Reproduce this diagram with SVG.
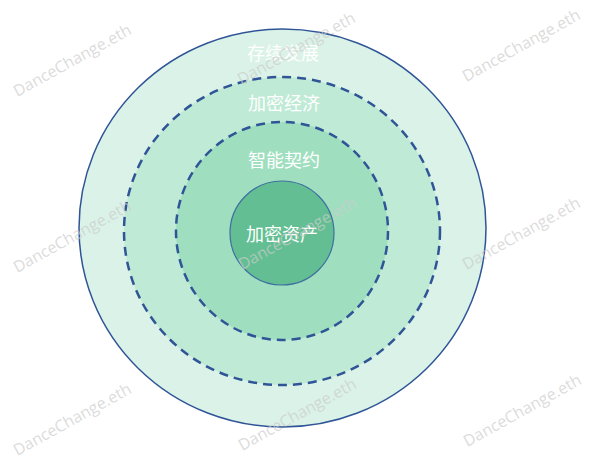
<svg xmlns="http://www.w3.org/2000/svg" width="600" height="470" viewBox="0 0 600 470">
<style>
.lbl{font-family:"Microsoft YaHei","Noto Sans CJK SC",sans-serif;font-size:18px;fill:#ffffff;text-anchor:middle;dominant-baseline:central}
.wm{font-family:"Open Sans","Liberation Sans",sans-serif;font-size:16px;fill:#cccccc;fill-opacity:0.7;text-anchor:middle;dominant-baseline:central}
.dash{stroke:#2f5597;stroke-width:2.5;stroke-dasharray:9 6}
</style>
<rect width="600" height="470" fill="#ffffff"/>
<g id="ring-outer">
<ellipse cx="282.5" cy="228" rx="203.5" ry="199" fill="#daf2e7" stroke="#2f5597" stroke-width="1.5"/>
<text class="lbl" x="283" y="52">存续发展</text>
</g>
<g id="ring-economy">
<ellipse cx="282" cy="231" rx="158" ry="154" fill="#bfead5" class="dash"/>
<text class="lbl" x="284" y="102">加密经济</text>
</g>
<g id="ring-contract">
<ellipse cx="282" cy="231" rx="106" ry="109" fill="#9fdfc0" class="dash"/>
<text class="lbl" x="284" y="159">智能契约</text>
</g>
<g id="core">
<circle cx="282" cy="233" r="52" fill="#63bf93" stroke="#3f6fa0" stroke-width="1.2"/>
<text class="lbl" x="282" y="233">加密资产</text>
</g>
<g id="connectors"></g>
<g id="watermarks">
<text class="wm" transform="translate(72,60) rotate(-29)">DanceChange.eth</text>
<text class="wm" transform="translate(296,48) rotate(-29)">DanceChange.eth</text>
<text class="wm" transform="translate(521,45) rotate(-29)">DanceChange.eth</text>
<text class="wm" transform="translate(72,236) rotate(-29)">DanceChange.eth</text>
<text class="wm" transform="translate(297,233) rotate(-29)">DanceChange.eth</text>
<text class="wm" transform="translate(521,233) rotate(-29)">DanceChange.eth</text>
<text class="wm" transform="translate(72,419) rotate(-29)">DanceChange.eth</text>
<text class="wm" transform="translate(297,414) rotate(-29)">DanceChange.eth</text>
<text class="wm" transform="translate(522,410) rotate(-29)">DanceChange.eth</text>
</g>
</svg>
